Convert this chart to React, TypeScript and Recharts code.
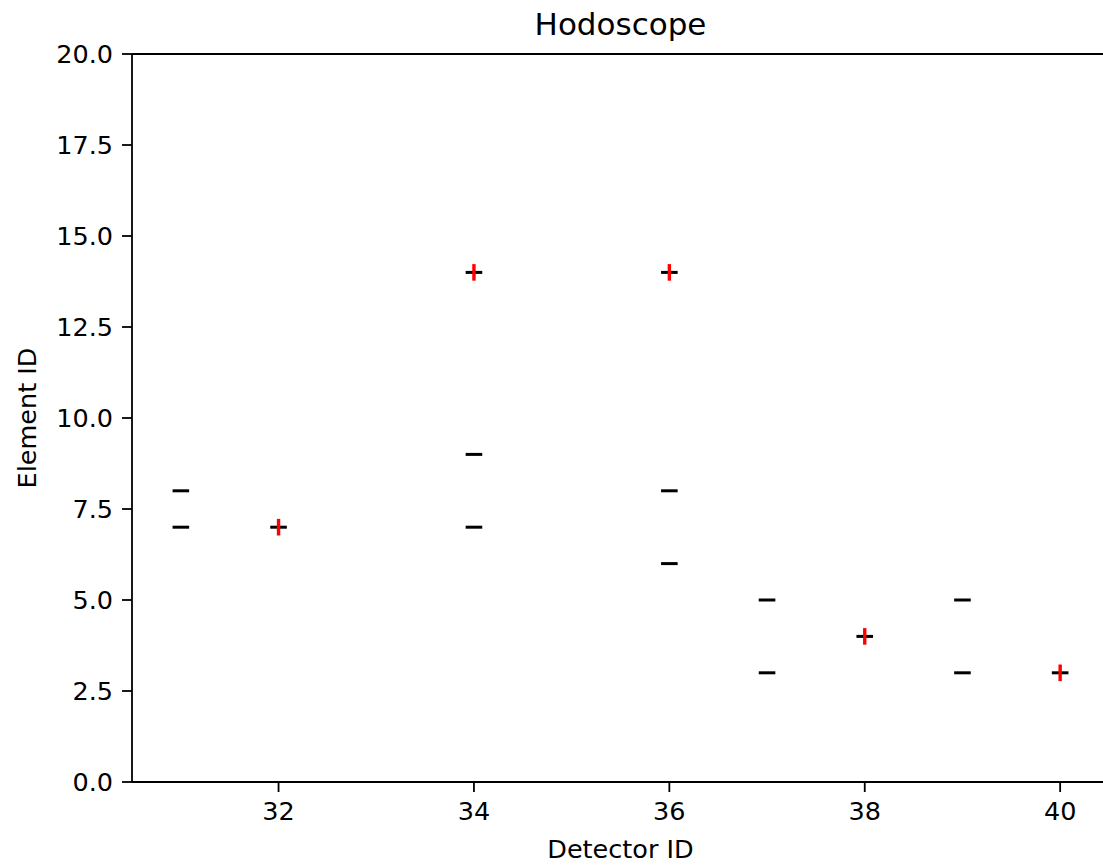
import React from "react";
import {
  ScatterChart,
  Scatter,
  XAxis,
  YAxis,
  ReferenceLine,
} from "recharts";

// every hit: detector id / element id
const hitDetectors = [31, 31, 32, 34, 34, 34, 36, 36, 36, 37, 37, 38, 39, 39, 40];
const hitElements = [8, 7, 7, 14, 9, 7, 14, 8, 6, 5, 3, 4, 5, 3, 3];

// hits picked by the track (red +)
const trackDetectors = [32, 34, 36, 38, 40];
const trackElements = [7, 14, 14, 4, 3];

const xTicks = [32, 34, 36, 38, 40];
const yTicks = [0, 2.5, 5, 7.5, 10, 12.5, 15, 17.5, 20];

const hits = hitDetectors.map((d, i) => ({ detector: d, element: hitElements[i] }));
const track = trackDetectors.map((d, i) => ({ detector: d, element: trackElements[i] }));

const FONT = "'DejaVu Sans', sans-serif";
const AXIS = { stroke: "#000", strokeWidth: 1.8 };

function Dash(props: any) {
  const { cx, cy } = props;
  return <line x1={cx - 8.3} x2={cx + 8.3} y1={cy} y2={cy} stroke="#000" strokeWidth={3} />;
}

function RedTick(props: any) {
  const { cx, cy } = props;
  return <line x1={cx} x2={cx} y1={cy - 8.3} y2={cy + 8.3} stroke="#ff0000" strokeWidth={3.4} />;
}

export default function App() {
  return (
    <div
      style={{
        position: "absolute",
        left: 0,
        top: 0,
        width: 1103,
        height: 865,
        overflow: "hidden",
        background: "#fff",
        fontFamily: FONT,
      }}
    >
      <div
        style={{
          position: "absolute",
          left: 132,
          width: 977,
          top: 9,
          textAlign: "center",
          fontSize: 31,
          lineHeight: "31px",
          color: "#000",
        }}
      >
        Hodoscope
      </div>
      <ScatterChart width={1120} height={865} margin={{ top: 54, right: 11, bottom: 0, left: 0 }}>
        <XAxis
          type="number"
          dataKey="detector"
          domain={[30.5, 40.5]}
          ticks={xTicks}
          allowDataOverflow
          height={83}
          tickSize={10}
          tickMargin={10}
          axisLine={AXIS}
          tickLine={AXIS}
          tick={{ fill: "#000", fontSize: 25.5, fontFamily: FONT }}
          label={{
            value: "Detector ID",
            position: "insideBottom",
            offset: 7,
            fill: "#000",
            fontSize: 25.5,
            fontFamily: FONT,
          }}
        />
        <YAxis
          type="number"
          dataKey="element"
          domain={[0, 20]}
          ticks={yTicks}
          allowDataOverflow
          width={132}
          tickSize={10}
          tickMargin={9}
          axisLine={AXIS}
          tickLine={AXIS}
          tickFormatter={(v: number) => v.toFixed(1)}
          tick={{ fill: "#000", fontSize: 25.5, fontFamily: FONT }}
          label={{
            value: "Element ID",
            position: "insideLeft",
            angle: -90,
            offset: 27,
            fill: "#000",
            fontSize: 25.5,
            fontFamily: FONT,
            style: { textAnchor: "middle" },
          }}
        />
        <ReferenceLine y={20} stroke="#000" strokeWidth={1.8} ifOverflow="visible" />
        <ReferenceLine x={40.5} stroke="#000" strokeWidth={1.8} ifOverflow="visible" />
        <Scatter data={hits} shape={<Dash />} isAnimationActive={false} />
        <Scatter data={track} shape={<RedTick />} isAnimationActive={false} />
      </ScatterChart>
    </div>
  );
}
